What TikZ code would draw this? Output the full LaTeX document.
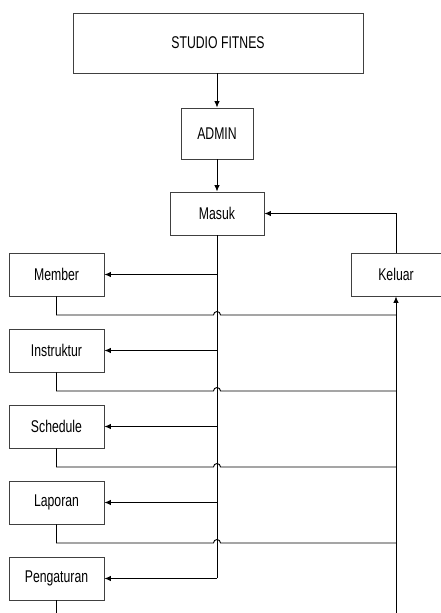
\documentclass[tikz,border=0pt]{standalone}
\usepackage{fontspec}
\setmainfont{Liberation Sans}[FakeStretch=0.72]
\usetikzlibrary{arrows.meta,calc}
\begin{document}
\begin{tikzpicture}[x=1pt,y=1pt,
  box/.style={draw=black!75,line width=0.9pt,rectangle,inner sep=0pt,
    font=\fontsize{17}{19}\selectfont},
  link/.style={draw=black,line width=0.9pt},
  arr/.style={link,-{Latex[length=6.5pt,width=5.5pt]}}]
\useasboundingbox (0,0) rectangle (441,613);
% main boxes
\node[box,minimum width=290,minimum height=60] (studio) at (218,570) {STUDIO FITNES};
\node[box,minimum width=72,minimum height=51] (admin) at (217,479.5) {ADMIN};
\node[box,minimum width=94,minimum height=43] (masuk) at (217,399.5) {Masuk};
\node[box,minimum width=90,minimum height=43] (keluar) at (396,338.5) {Keluar};
% menu boxes
\node[box,minimum width=95,minimum height=43] (member) at (56.5,338.5) {Member};
\node[box,minimum width=95,minimum height=43] (instruktur) at (56.5,262.5) {Instruktur};
\node[box,minimum width=95,minimum height=43] (schedule) at (56.5,186.5) {Schedule};
\node[box,minimum width=95,minimum height=43] (laporan) at (56.5,110.5) {Laporan};
\node[box,minimum width=95,minimum height=43] (pengaturan) at (56.5,34.5) {Pengaturan};
% top flow
\draw[arr] (studio.south -| admin.north) -- (admin.north);
\draw[arr] (admin.south) -- (masuk.north);
% spine from Masuk to the menu entries
\coordinate (spineend) at (217,34.5);
\draw[link] (masuk.south) -- (spineend);
\draw[arr] (spineend) -- (pengaturan.east);
\foreach \m/\y in {member/338.5,instruktur/262.5,schedule/186.5,laporan/110.5}
  \draw[arr] (217,\y) -- (\m.east);
% return from Keluar to Masuk
\coordinate (turn) at (396,399.5);
\draw[arr] (keluar.north) -- (turn) -- (masuk.east);
% bus into Keluar
\coordinate (busend) at (396,0);
\draw[arr] (busend) -- (keluar.south);
% menu exits, hopping over the spine into the bus
\foreach \m/\y in {member/298,instruktur/222,schedule/146,laporan/70} {
  \coordinate (joint-\m) at (396,\y);
  \coordinate (hopin-\m) at (213.5,\y);
  \draw[link] (\m.south) |- (hopin-\m)
    arc[start angle=180,end angle=0,radius=3.5] -- (joint-\m);
}
\coordinate (tail) at (56.5,0);
\draw[link] (pengaturan.south) -- (tail);
\end{tikzpicture}
\end{document}
